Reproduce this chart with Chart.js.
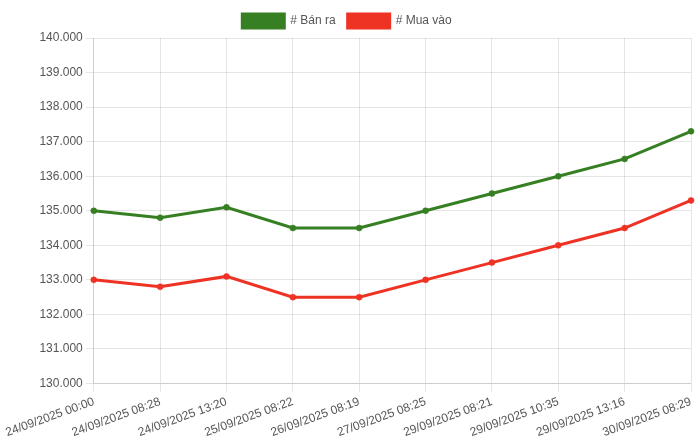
<!DOCTYPE html>
<html lang="vi">

<head>
    <meta charset="UTF-8">
    <title>Giá Bán ra / Mua vào</title>
    <script src="https://cdn.jsdelivr.net/npm/chart.js"></script>
    <style>
        html, body {
            margin: 0;
            padding: 0;
            background: #fff;
        }
        #wrap {
            margin-left: 3px;
            width: 697px;
            height: 444px;
        }
    </style>
</head>

<body>
    <div id="wrap">
        <canvas id="lineChart"></canvas>
    </div>

    <script>
        const labels = [
            "24/09/2025 00:00", "24/09/2025 08:28", "24/09/2025 13:20",
            "25/09/2025 08:22", "26/09/2025 08:19", "27/09/2025 08:25",
            "29/09/2025 08:21", "29/09/2025 10:35", "29/09/2025 13:16",
            "30/09/2025 08:29"
        ];
        const banRa = [135000, 134800, 135100, 134500, 134500, 135000, 135500, 136000, 136500, 137300];
        const muaVao = [133000, 132800, 133100, 132500, 132500, 133000, 133500, 134000, 134500, 135300];
        const yMin = 130000;
        const yMax = 140000;
        const yStep = 1000;

        const green = '#367f23';
        const red = '#ee3224';

        Chart.defaults.font.family = "'Liberation Sans', Arial, Helvetica, sans-serif";
        Chart.defaults.font.size = 12;
        Chart.defaults.color = '#555';

        // dot as thousands separator, e.g. 135.000
        function fmt(v) {
            return String(Math.round(v)).replace(/\B(?=(\d{3})+(?!\d))/g, '.');
        }

        new Chart(document.getElementById("lineChart").getContext("2d"), {
            type: "line",
            data: {
                labels: labels,
                datasets: [{
                    label: '# Bán ra',
                    data: banRa,
                    borderColor: green,
                    backgroundColor: green,
                    borderWidth: 3,
                    pointRadius: 3,
                    pointBorderWidth: 0.5,
                    pointBackgroundColor: green,
                    tension: 0
                }, {
                    label: '# Mua vào',
                    data: muaVao,
                    borderColor: red,
                    backgroundColor: red,
                    borderWidth: 3,
                    pointRadius: 3,
                    pointBorderWidth: 0.5,
                    pointBackgroundColor: red,
                    tension: 0
                }]
            },
            options: {
                responsive: true,
                maintainAspectRatio: false,
                animation: false,
                layout: {
                    padding: { left: 0, right: 9, top: 2, bottom: 1 }
                },
                plugins: {
                    legend: {
                        labels: {
                            boxWidth: 42,
                            boxHeight: 14,
                            padding: 12
                        }
                    },
                    tooltip: { enabled: false }
                },
                scales: {
                    x: {
                        ticks: {
                            maxRotation: 20,
                            minRotation: 20,
                            autoSkip: false
                        }
                    },
                    y: {
                        min: yMin,
                        max: yMax,
                        ticks: {
                            stepSize: yStep,
                            callback: v => fmt(v)
                        }
                    }
                }
            }
        });
    </script>
</body>

</html>
